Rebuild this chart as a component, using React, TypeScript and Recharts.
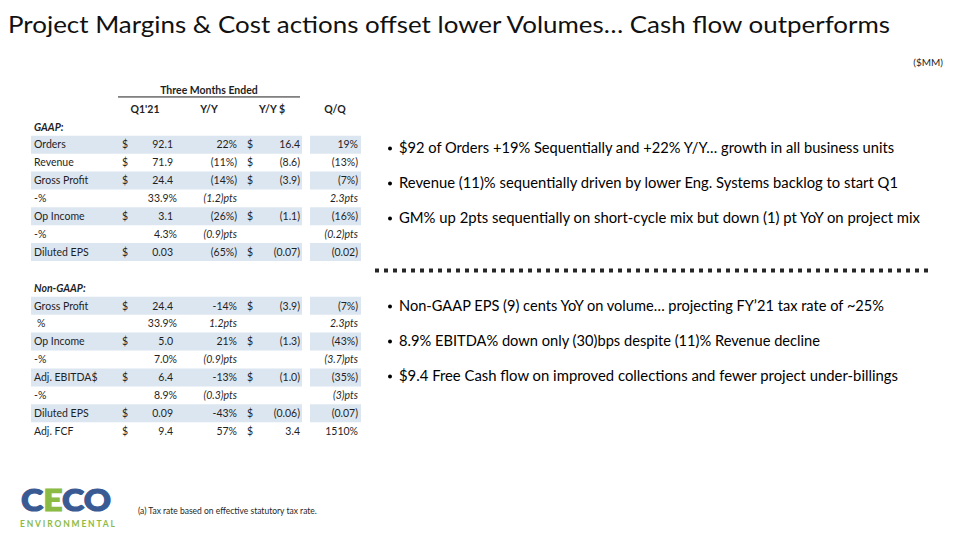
import { ComposedChart, Bar, XAxis, YAxis, Customized } from 'recharts'

const FONT = 'Lato, "Open Sans", sans-serif'
const INK = '#1f1f1f'
const BAND = '#dce6f1'

// ---- table data ----
const colHeads = ["Q1'21", 'Y/Y', 'Y/Y $', 'Q/Q']

const gaapLabels = ['Orders', 'Revenue', 'Gross Profit', '-%', 'Op Income', '-%', 'Diluted EPS']
const gaapQ1 = ['92.1', '71.9', '24.4', '33.9%', '3.1', '4.3%', '0.03']
const gaapYY = ['22%', '(11%)', '(14%)', '(1.2)pts', '(26%)', '(0.9)pts', '(65%)']
const gaapYYD = ['16.4', '(8.6)', '(3.9)', '', '(1.1)', '', '(0.07)']
const gaapQQ = ['19%', '(13%)', '(7%)', '2.3pts', '(16%)', '(0.2)pts', '(0.02)']

const ngLabels = ['Gross Profit', ' %', 'Op Income', '-%', 'Adj. EBITDA$', '-%', 'Diluted EPS', 'Adj. FCF']
const ngQ1 = ['24.4', '33.9%', '5.0', '7.0%', '6.4', '8.9%', '0.09', '9.4']
const ngYY = ['-14%', '1.2pts', '21%', '(0.9)pts', '-13%', '(0.3)pts', '-43%', '57%']
const ngYYD = ['(3.9)', '', '(1.3)', '', '(1.0)', '', '(0.06)', '3.4']
const ngQQ = ['(7%)', '2.3pts', '(43%)', '(3.7)pts', '(35%)', '(3)pts', '(0.07)', '1510%']

const gaapShaded = [true, false, true, false, true, false, true]
const ngShaded = [true, false, true, false, true, false, true, false]

// ---- commentary ----
const title = 'Project Margins & Cost actions offset lower Volumes… Cash flow outperforms'
const gaapBullets = [
  '$92 of Orders +19% Sequentially and +22% Y/Y… growth in all business units',
  'Revenue (11)% sequentially driven by lower Eng. Systems backlog to start Q1',
  'GM% up 2pts sequentially on short-cycle mix but down (1) pt YoY on project mix',
]
const gaapBulletEnds = [894, 898, 920]
const ngBullets = [
  'Non-GAAP EPS (9) cents YoY on volume… projecting FY’21 tax rate of ~25%',
  '8.9% EBITDA% down only (30)bps despite (11)% Revenue decline',
  '$9.4 Free Cash flow on improved collections and fewer project under-billings',
]
const ngBulletEnds = [884, 820, 898]
const footnote = '(a) Tax rate based on effective statutory tax rate.'

type Row = {
  key: string
  kind: 'title' | 'heads' | 'section' | 'blank' | 'data'
  label?: string
  q1?: string
  yy?: string
  yyd?: string
  qq?: string
  band: number
  gap: number
  bandQ: number
}

const mk = (labels: string[], q1: string[], yy: string[], yyd: string[], qq: string[], shaded: boolean[], p: string): Row[] =>
  labels.map((label, i) => ({
    key: `${p}${i}`, kind: 'data', label, q1: q1[i], yy: yy[i], yyd: yyd[i], qq: qq[i],
    band: shaded[i] ? 271 : 0, gap: shaded[i] ? 8 : 0, bandQ: shaded[i] ? 51 : 0,
  }))

const empty = { band: 0, gap: 0, bandQ: 0 }
const rows: Row[] = [
  { key: 'h0', kind: 'title', ...empty },
  { key: 'h1', kind: 'heads', ...empty },
  { key: 'h2', kind: 'section', label: 'GAAP:', ...empty },
  ...mk(gaapLabels, gaapQ1, gaapYY, gaapYYD, gaapQQ, gaapShaded, 'g'),
  { key: 's0', kind: 'blank', ...empty },
  { key: 's1', kind: 'section', label: 'Non-GAAP:', ...empty },
  ...mk(ngLabels, ngQ1, ngYY, ngYYD, ngQQ, ngShaded, 'n'),
]
const rowByKey: Record<string, Row> = Object.fromEntries(rows.map(r => [r.key, r]))

const isPct = (s?: string) => !!s && (s.endsWith('%') || s.endsWith('pts'))

function RowTick(props: any) {
  const { y, payload } = props
  const r: Row | undefined = rowByKey[payload?.value] ?? rows[payload?.index]
  if (!r) return <g />
  const b = y + 3.8
  const t = { fontFamily: FONT, fontSize: 10.5, fill: INK }
  if (r.kind === 'title') {
    return (
      <g>
        <text x={209} y={b - 1} textAnchor="middle" {...t} fontWeight={700}>Three Months Ended</text>
        <line x1={118} x2={300} y1={y + 6} y2={y + 6} stroke={INK} strokeWidth={1} />
      </g>
    )
  }
  if (r.kind === 'heads') {
    const cx = [145, 209, 272, 335]
    return (
      <g>
        {colHeads.map((h, i) => (
          <text key={h} x={cx[i]} y={b} textAnchor="middle" {...t} fontWeight={700}>{h}</text>
        ))}
      </g>
    )
  }
  if (r.kind === 'section') {
    return <text x={34} y={b} {...t} fontWeight={700} fontStyle="italic">{r.label}</text>
  }
  if (r.kind === 'blank') return <g />
  const pctRow = isPct(r.q1)
  const italicPts = (s?: string) => (s && s.endsWith('pts') ? 'italic' : 'normal')
  return (
    <g>
      <text x={r.label?.startsWith(' ') ? 37 : 34} y={b} {...t}>{r.label?.trim()}</text>
      {!pctRow && <text x={122} y={b} {...t}>$</text>}
      <text x={pctRow ? 177 : 173} y={b} textAnchor="end" {...t}>{r.q1}</text>
      <text x={237} y={b} textAnchor="end" {...t} fontStyle={italicPts(r.yy)}>{r.yy}</text>
      {r.yyd ? <text x={247} y={b} {...t}>$</text> : null}
      {r.yyd ? <text x={300} y={b} textAnchor="end" {...t}>{r.yyd}</text> : null}
      <text x={358} y={b} textAnchor="end" {...t} fontStyle={italicPts(r.qq)}>{r.qq}</text>
    </g>
  )
}

function Decor() {
  const bullet = (s: string, y: number, end: number) => (
    <g key={s}>
      <circle cx={390} cy={y - 4.5} r={2} fill="#000" />
      <text x={399} y={y} fontFamily={FONT} fontSize={14.5} fill="#000" textLength={end - 399} lengthAdjust="spacingAndGlyphs">{s}</text>
    </g>
  )
  const blue = '#3a5a94'
  const green = '#8bbb45'
  return (
    <g>
      <text x={8} y={33} fontFamily={FONT} fontSize={23} fill="#111" textLength={882} lengthAdjust="spacingAndGlyphs">{title}</text>
      <text x={943} y={66} textAnchor="end" fontFamily={FONT} fontSize={10} fill={INK}>($MM)</text>
      {gaapBullets.map((s, i) => bullet(s, 153 + i * 35, gaapBulletEnds[i]))}
      <line x1={375} x2={928} y1={270.5} y2={270.5} stroke="#262626" strokeWidth={4} strokeDasharray="4 5" />
      {ngBullets.map((s, i) => bullet(s, 311 + i * 35, ngBulletEnds[i]))}
      <text x={21} y={511} fontFamily={FONT} fontSize={31} fontWeight={900} strokeWidth={1.2} textLength={90} lengthAdjust="spacingAndGlyphs">
        <tspan fill={blue} stroke={blue}>C</tspan>
        <tspan fill={green} stroke={green}>E</tspan>
        <tspan fill={blue} stroke={blue}>CO</tspan>
      </text>
      <text x={20} y={527} fontFamily={FONT} fontSize={8.5} fontWeight={700} fill={green} textLength={95} lengthAdjust="spacing">ENVIRONMENTAL</text>
      <text x={138} y={514} fontFamily={FONT} fontSize={8.5} fill={INK}>{footnote}</text>
    </g>
  )
}

export default function App() {
  return (
    <div style={{ position: 'absolute', left: 0, top: 0, width: 960, height: 540, background: '#fff' }}>
      <ComposedChart
        width={960}
        height={540}
        data={rows}
        layout="vertical"
        barCategoryGap={0}
        margin={{ top: 82, right: 599, bottom: 100, left: 1 }}
      >
        <XAxis type="number" hide domain={[0, 330]} />
        <YAxis
          type="category"
          dataKey="key"
          width={30}
          interval={0}
          axisLine={false}
          tickLine={false}
          tick={(p: any) => <RowTick {...p} />}
        />
        <Bar dataKey="band" stackId="a" fill={BAND} isAnimationActive={false} />
        <Bar dataKey="gap" stackId="a" fill="#fff" fillOpacity={0} isAnimationActive={false} />
        <Bar dataKey="bandQ" stackId="a" fill={BAND} isAnimationActive={false} />
        <Customized component={<Decor />} />
      </ComposedChart>
    </div>
  )
}
